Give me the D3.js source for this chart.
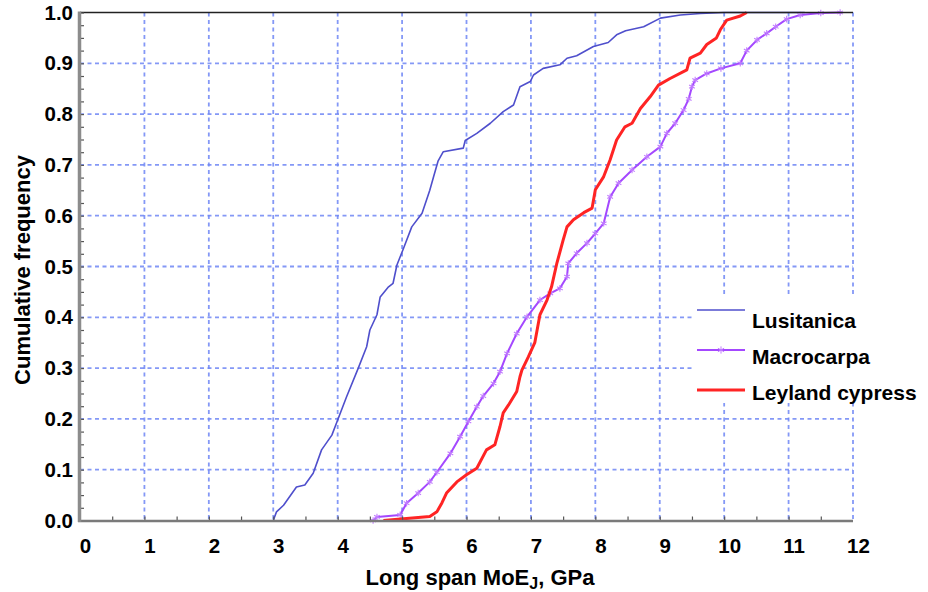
<!DOCTYPE html>
<html>
<head>
<meta charset="utf-8">
<script src="https://cdn.jsdelivr.net/npm/d3@7"></script>
<style>
    body { margin: 0; background: #fff; }
    .chart text { font-family: "Liberation Sans", Arial, Helvetica, sans-serif; font-weight: bold; fill: #000; }
    .grid line { stroke: #6f86f4; stroke-opacity: 0.85; stroke-width: 1.8; stroke-dasharray: 4 3.5; }
</style>
</head>
<body>
<div class="dm-container-graph" style="width:928px;height:592px"></div>
<script>
// ECDF curves: [MoE GPa, cumulative frequency]
var lusitanica = [[3.0,0],[3.05,0.017],[3.16,0.03],[3.36,0.066],[3.49,0.07],[3.62,0.093],[3.75,0.139],[3.91,0.168],
    [4.0,0.198],[4.14,0.244],[4.32,0.30],[4.45,0.342],[4.50,0.375],[4.61,0.405],[4.66,0.44],[4.79,0.46],[4.86,0.467],
    [4.92,0.503],[5.02,0.535],[5.15,0.578],[5.31,0.605],[5.43,0.65],[5.49,0.677],[5.56,0.708],[5.64,0.726],[5.95,0.733],
    [5.98,0.748],[6.16,0.762],[6.37,0.782],[6.57,0.805],[6.73,0.818],[6.83,0.854],[6.99,0.864],[7.04,0.877],[7.19,0.89],
    [7.45,0.897],[7.56,0.91],[7.71,0.915],[7.97,0.933],[8.2,0.941],[8.33,0.956],[8.47,0.964],[8.75,0.972],[9.01,0.989],
    [9.32,0.995],[9.63,0.998],[10.0,1.0],[11.25,1.0]]

var macrocarpa = [[4.55,0],[4.61,0.007],[4.97,0.011],[5.07,0.034],[5.25,0.054],[5.43,0.076],[5.54,0.095],[5.75,0.132],
    [5.90,0.165],[6.03,0.195],[6.16,0.224],[6.26,0.245],[6.42,0.27],[6.52,0.293],[6.63,0.329],[6.78,0.368],[6.94,0.401],
    [7.14,0.434],[7.30,0.447],[7.45,0.457],[7.56,0.48],[7.58,0.506],[7.71,0.526],[7.87,0.546],[8.0,0.565],[8.13,0.585],
    [8.23,0.637],[8.36,0.664],[8.57,0.69],[8.80,0.716],[9.01,0.736],[9.11,0.762],[9.24,0.782],[9.37,0.808],[9.45,0.83],
    [9.50,0.854],[9.55,0.867],[9.73,0.88],[9.95,0.89],[10.25,0.9],[10.35,0.925],[10.51,0.946],[10.66,0.959],[10.8,0.972],
    [10.97,0.987],[11.18,0.995],[11.5,0.999],[11.8,1.0]]

var leyland = [[4.71,0],[5.43,0.008],[5.54,0.017],[5.62,0.035],[5.69,0.054],[5.85,0.076],[6.0,0.09],[6.16,0.103],
    [6.31,0.139],[6.44,0.149],[6.52,0.185],[6.57,0.212],[6.65,0.227],[6.78,0.254],[6.83,0.283],[6.86,0.296],[6.96,0.322],
    [7.06,0.35],[7.14,0.405],[7.25,0.434],[7.32,0.46],[7.40,0.505],[7.50,0.552],[7.56,0.578],[7.66,0.592],[7.82,0.606],
    [7.95,0.615],[8.0,0.651],[8.13,0.677],[8.23,0.71],[8.33,0.749],[8.46,0.775],[8.57,0.782],[8.70,0.811],[8.85,0.834],
    [8.98,0.857],[9.16,0.87],[9.42,0.887],[9.47,0.91],[9.63,0.92],[9.73,0.937],[9.88,0.95],[9.94,0.966],[10.04,0.985],
    [10.25,0.993],[10.35,1.0]]

var seriesNames = ["Lusitanica", "Macrocarpa", "Leyland cypress"]
var xTicks = [0,1,2,3,4,5,6,7,8,9,10,11,12]
var yTicks = [0,0.1,0.2,0.3,0.4,0.5,0.6,0.7,0.8,0.9,1.0]

!function(){

    var width = 928, height = 592
    var margin = {top: 12.5, left: 80, bottom: 71.5, right: 75}
    var chartWidth = width - (margin.left + margin.right)
    var chartHeight = height - (margin.top + margin.bottom)

    var svg = d3.select(".dm-container-graph").append("svg")
        .attr("class", "chart")
        .attr("width", width).attr("height", height)

    var gridLayer = svg.append("g").attr("class", "grid")
        .attr("transform", "translate(" + [margin.left, margin.top] + ")")
    var chartLayer = svg.append("g")
        .attr("transform", "translate(" + [margin.left, margin.top] + ")")
    var axisLayer = svg.append("g")

    var x = d3.scaleLinear().domain([0, 12]).range([0, chartWidth])
    var y = d3.scaleLinear().domain([0, 1]).range([chartHeight, 0])

    var styles = [
        {color: "#4f4fcc", width: 1.6},
        {color: "#a448ff", width: 2},
        {color: "#ff2424", width: 3}
    ]

    drawGrid()
    drawChart()
    drawAxis()
    drawLegend()

    function drawGrid() {
        gridLayer.selectAll(".vg")
            .data(xTicks.slice(1))
            .enter().append("line")
            .attr("x1", function(d) { return x(d) })
            .attr("x2", function(d) { return x(d) })
            .attr("y1", 0).attr("y2", chartHeight)

        gridLayer.selectAll(".hg")
            .data(yTicks.slice(1, -1))
            .enter().append("line")
            .attr("x1", 0).attr("x2", chartWidth)
            .attr("y1", function(d) { return y(d) })
            .attr("y2", function(d) { return y(d) })
    }

    function drawChart() {
        var line = d3.line()
            .x(function(d) { return x(d[0]) })
            .y(function(d) { return y(d[1]) })

        var all = [lusitanica, macrocarpa]

        chartLayer.selectAll(".line")
            .data(all)
            .enter().append("path")
            .attr("class", "line")
            .attr("fill", "none")
            .attr("stroke-linejoin", "round")
            .attr("stroke", function(d, i) { return styles[i].color })
            .attr("stroke-width", function(d, i) { return styles[i].width })
            .attr("d", line)

        // asterisk markers on macrocarpa
        var marker = d3.symbol().type(d3.symbolAsterisk).size(30)
        chartLayer.selectAll(".mk")
            .data(macrocarpa)
            .enter().append("path")
            .attr("class", "mk")
            .attr("transform", function(d) { return "translate(" + [x(d[0]), y(d[1])] + ")" })
            .attr("d", marker)
            .attr("fill", "none")
            .attr("stroke", "#c27dff")
            .attr("stroke-width", 1.1)

        chartLayer.append("path")
            .datum(leyland)
            .attr("fill", "none")
            .attr("stroke", styles[2].color)
            .attr("stroke-width", styles[2].width)
            .attr("stroke-linejoin", "round")
            .attr("d", line)
    }

    function drawAxis() {
        // top frame line
        axisLayer.append("line")
            .attr("x1", margin.left).attr("x2", margin.left + chartWidth)
            .attr("y1", margin.top).attr("y2", margin.top)
            .attr("stroke", "#222").attr("stroke-width", 1.3)

        // minor ticks
        var yMinor = d3.axisRight(y).tickValues(d3.range(0, 1.0001, 0.025)).tickSize(4).tickFormat("")
        axisLayer.append("g")
            .attr("transform", "translate(" + [margin.left, margin.top] + ")")
            .call(yMinor)
            .call(function(g) { g.select(".domain").remove() })
            .selectAll("line").attr("stroke", "#555").attr("stroke-width", 1.2)

        var xMinor = d3.axisTop(x).tickValues(d3.range(0.5, 12, 0.5)).tickSize(4).tickFormat("")
        axisLayer.append("g")
            .attr("transform", "translate(" + [margin.left, margin.top + chartHeight] + ")")
            .call(xMinor)
            .call(function(g) { g.select(".domain").remove() })
            .selectAll("line").attr("stroke", "#555").attr("stroke-width", 1.2)

        // axis bars
        axisLayer.append("line")
            .attr("x1", margin.left - 2).attr("x2", margin.left + chartWidth)
            .attr("y1", margin.top + chartHeight + 0.5).attr("y2", margin.top + chartHeight + 0.5)
            .attr("stroke", "#7a7a7a").attr("stroke-width", 2.5)
        axisLayer.append("line")
            .attr("x1", margin.left - 0.5).attr("x2", margin.left - 0.5)
            .attr("y1", margin.top - 1).attr("y2", margin.top + chartHeight + 1.5)
            .attr("stroke", "#8c8c8c").attr("stroke-width", 3.5)

        // labels
        var xAxis = d3.axisBottom(x).tickValues(xTicks).tickSize(0).tickPadding(18).tickFormat(d3.format("d"))
        axisLayer.append("g")
            .attr("transform", "translate(" + [margin.left + 5, margin.top + chartHeight] + ")")
            .call(xAxis)
            .call(function(g) { g.select(".domain").remove() })
            .selectAll("text").style("font-size", "20.5px")

        var yAxis = d3.axisLeft(y).tickValues(yTicks).tickSize(0).tickPadding(7).tickFormat(d3.format(".1f"))
        axisLayer.append("g")
            .attr("transform", "translate(" + [margin.left, margin.top] + ")")
            .call(yAxis)
            .call(function(g) { g.select(".domain").remove() })
            .selectAll("text").style("font-size", "20.5px")

        var xt = svg.append("text")
            .attr("x", 480)
            .attr("y", 585)
            .attr("text-anchor", "middle")
            .style("font-size", "22px")
        xt.append("tspan").text("Long span MoE")
        xt.append("tspan").attr("dy", 4).style("font-size", "16px").text("J")
        xt.append("tspan").attr("dy", -4).text(", GPa")

        svg.append("text")
            .attr("transform", "translate(" + [30, 270] + ") rotate(-90)")
            .attr("text-anchor", "middle")
            .style("font-size", "22px")
            .text("Cumulative frequency")
    }

    function drawLegend() {
        var legend = svg.append("g")
        legend.append("rect")
            .attr("x", 694).attr("y", 296).attr("width", 240).attr("height", 107)
            .attr("fill", "#fff")

        var lineY = [310, 350, 390]
        var textY = [328, 364, 400]

        var item = legend.selectAll(".item")
            .data(seriesNames)
            .enter().append("g")

        item.append("line")
            .attr("x1", 697).attr("x2", 745)
            .attr("y1", function(d, i) { return lineY[i] })
            .attr("y2", function(d, i) { return lineY[i] })
            .attr("stroke", function(d, i) { return styles[i].color })
            .attr("stroke-width", function(d, i) { return styles[i].width })

        item.append("text")
            .attr("x", 752)
            .attr("y", function(d, i) { return textY[i] })
            .style("font-size", "21px")
            .text(function(d) { return d })

        legend.append("path")
            .attr("transform", "translate(" + [721, lineY[1]] + ")")
            .attr("d", d3.symbol().type(d3.symbolAsterisk).size(36))
            .attr("fill", "none")
            .attr("stroke", "#c27dff")
    }
}();
</script>
</body>
</html>
